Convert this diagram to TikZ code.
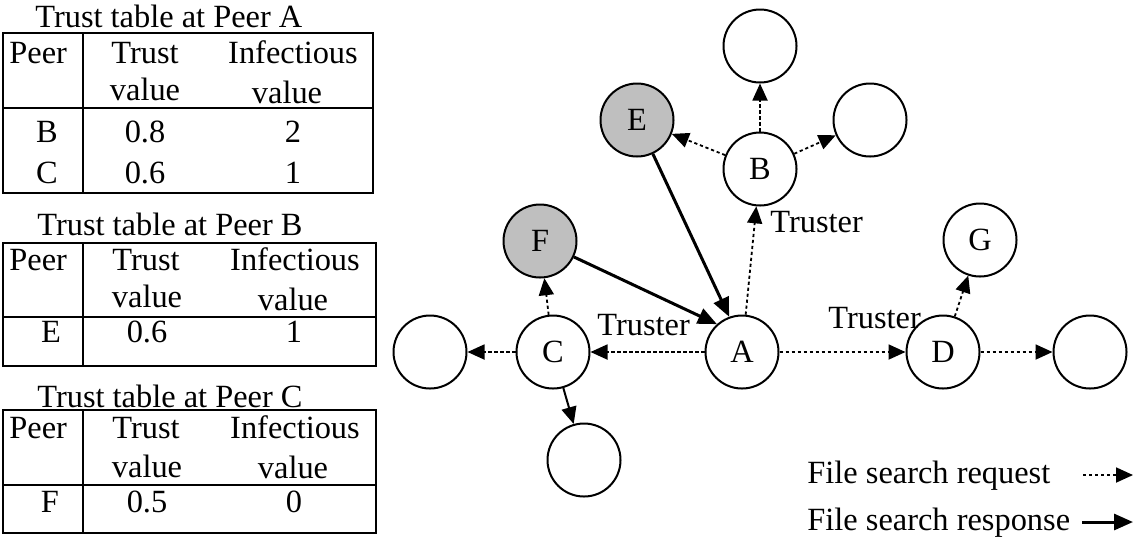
\documentclass[tikz,border=0pt]{standalone}
\usepackage{fontspec}
\setmainfont{Liberation Serif}
\usetikzlibrary{arrows.meta}
\tikzset{
  lbl/.style={font=\fontsize{16.2}{19}\selectfont},
  peer/.style={circle, draw, line width=1pt, minimum size=36.5pt, inner sep=0pt, lbl},
  badpeer/.style={peer, fill=black!25},
  txt/.style={inner sep=0pt, lbl},
  rule/.style={line width=1pt},
  request/.style={line width=0.9pt, dash pattern=on 1.6pt off 1.4pt,
    -{Triangle[length=8.5pt,width=7.5pt]}},
  response/.style={line width=1.5pt, -{Triangle[length=9.5pt,width=8pt]}},
  forward/.style={line width=1pt, -{Triangle[length=8.5pt,width=7.5pt]}}
}
\begin{document}
\begin{tikzpicture}[x=0.5pt,y=-0.5pt]
\useasboundingbox (0,0) rectangle (1139,543);

% ---- Trust table at Peer A ----
\node[txt, anchor=base west] (tA) at (35,27) {Trust table at Peer A};
\draw[rule] (3,33) rectangle (373,193);
\draw[rule] (3,108) -- (373,108);
\draw[rule] (83,33) -- (83,193);
\node[txt, anchor=base west] (tAh1) at (9,63) {Peer};
\node[txt, anchor=base] (tAh2) at (145,63) {Trust};
\node[txt, anchor=base] (tAh3) at (145,100) {value};
\node[txt, anchor=base] (tAh4) at (293,63) {Infectious};
\node[txt, anchor=base] (tAh5) at (287,103) {value};
\node[txt, anchor=base] (tAr1a) at (47,142) {B};
\node[txt, anchor=base] (tAr1b) at (145,142) {0.8};
\node[txt, anchor=base] (tAr1c) at (293,142) {2};
\node[txt, anchor=base] (tAr2a) at (47,183) {C};
\node[txt, anchor=base] (tAr2b) at (145,183) {0.6};
\node[txt, anchor=base] (tAr2c) at (293,183) {1};

% ---- Trust table at Peer B ----
\node[txt, anchor=base west] (tB) at (37,235) {Trust table at Peer B};
\draw[rule] (3,243) rectangle (376,366);
\draw[rule] (3,317) -- (376,317);
\draw[rule] (83,243) -- (83,366);
\node[txt, anchor=base west] (tBh1) at (9,270) {Peer};
\node[txt, anchor=base] (tBh2) at (146,270) {Trust};
\node[txt, anchor=base] (tBh3) at (147,307) {value};
\node[txt, anchor=base] (tBh4) at (295,270) {Infectious};
\node[txt, anchor=base] (tBh5) at (293,310) {value};
\node[txt, anchor=base] (tBr1a) at (51,342) {E};
\node[txt, anchor=base] (tBr1b) at (147,342) {0.6};
\node[txt, anchor=base] (tBr1c) at (294,342) {1};

% ---- Trust table at Peer C ----
\node[txt, anchor=base west] (tC) at (37,407) {Trust table at Peer C};
\draw[rule] (3,410) rectangle (376,533);
\draw[rule] (3,485) -- (376,485);
\draw[rule] (83,410) -- (83,533);
\node[txt, anchor=base west] (tCh1) at (9,438) {Peer};
\node[txt, anchor=base] (tCh2) at (146,438) {Trust};
\node[txt, anchor=base] (tCh3) at (147,477) {value};
\node[txt, anchor=base] (tCh4) at (295,438) {Infectious};
\node[txt, anchor=base] (tCh5) at (293,478) {value};
\node[txt, anchor=base] (tCr1a) at (50,512) {F};
\node[txt, anchor=base] (tCr1b) at (147,512) {0.5};
\node[txt, anchor=base] (tCr1c) at (294,512) {0};

% ---- peers ----
\node[peer] (A) at (742,352) {A};
\node[peer] (B) at (760,169) {B};
\node[peer] (C) at (553,352) {C};
\node[peer] (D) at (943,352) {D};
\node[badpeer] (E) at (637,120) {E};
\node[badpeer] (F) at (540,241) {F};
\node[peer] (G) at (980,240) {G};
\node[peer] (Btop) at (760,46) {};
\node[peer] (Bright) at (870,120) {};
\node[peer] (Cleft) at (430,352) {};
\node[peer] (Cdown) at (584,460) {};
\node[peer] (Dright) at (1090,352) {};

% ---- query forwarding ----
\draw[request] (A) -- (C);
\draw[request] (A) -- (B);
\draw[request] (A) -- (D);
\draw[request] (C) -- (Cleft);
\draw[request] (C) -- (F);
\draw[request] (B) -- (E);
\draw[request] (B) -- (Btop);
\draw[request] (B) -- (Bright);
\draw[request] (D) -- (G);
\draw[request] (D) -- (Dright);
\draw[forward] (C) -- (Cdown);

% ---- responses from infected peers ----
\draw[response] (E) -- (A.110);
\draw[response] (F) -- (A.132);

% ---- truster labels ----
\node[txt, anchor=west] (trB) at (770,222) {Truster};
\node[txt, anchor=west] (trC) at (597,325) {Truster};
\node[txt, anchor=west] (trD) at (828,318) {Truster};

% ---- legend ----
\node[txt, anchor=base west] (lgReq) at (807,483) {File search request};
\node[txt, anchor=base west] (lgRes) at (807,530) {File search response};
\coordinate (rq1) at (1083,475);
\coordinate (rq2) at (1133,475);
\coordinate (rs1) at (1082,522);
\coordinate (rs2) at (1133,522);
\draw[request] (rq1) -- (rq2);
\draw[response] (rs1) -- (rs2);
\end{tikzpicture}
\end{document}
